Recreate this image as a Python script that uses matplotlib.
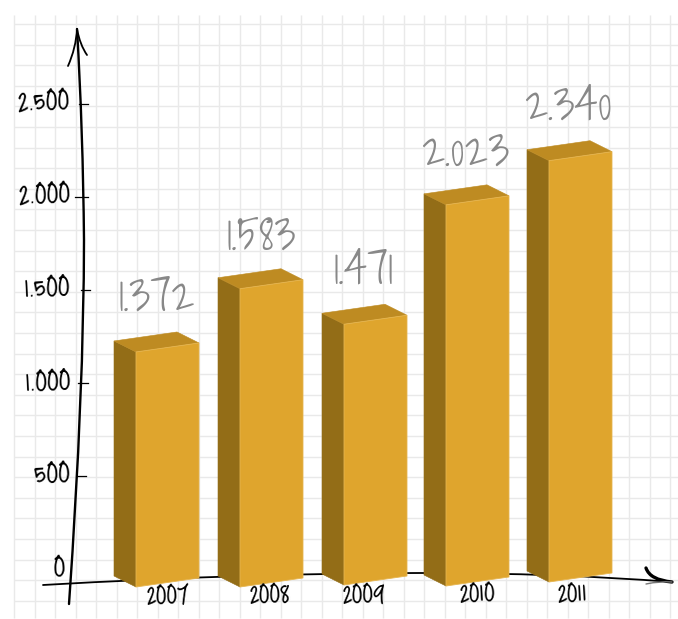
import matplotlib
matplotlib.use('Agg')
import matplotlib.pyplot as plt
from matplotlib.patches import PathPatch
from matplotlib.path import Path
import numpy as np

years = ['2007', '2008', '2009', '2010', '2011']
values = [1372, 1583, 1471, 2023, 2340]
value_labels = ['1.372', '1.583', '1.471', '2.023', '2.340']
y_ticks = [0, 500, 1000, 1500, 2000, 2500]
y_tick_labels = ['0', '500', '1.000', '1.500', '2.000', '2.500']

# layout of the sheet, in pixels
W, H = 678, 619
Y_ZERO = 569
PX_PER_UNIT = 0.186
front_left = [136, 240, 344, 446, 549]
front_bottom = [587, 587, 585, 586, 582]
# the bars are hand drawn, none of them sits exactly on the scale
hand_scale = [0.921, 1.013, 0.953, 1.013, 0.968]
FRONT_W, TILT, DEPTH_X, DEPTH_Y = 63, 9, 22, 11

value_label_xy = [(157, 297), (261, 236), (364, 270), (465, 152), (568, 106)]
year_label_xy = [(168, 598), (270, 598), (364, 598), (477, 597), (572, 597)]
tick_right = [65, 71, 72, 71, 71, 70]
tick_y = [571, 478, 385, 291, 198, 105]
tick_span = [None, (77, 86), (78, 88), (81, 90), (75, 88), (79, 88)]

FRONT = '#DFA52D'
SIDE = '#936D17'
TOP = '#BE8B22'
GRID = '#E9E9E9'
HAND_THIN = ['Shadows Into Light', 'DejaVu Sans']
HAND_BOLD = ['Just Me Again Down Here', 'DejaVu Sans']


def uy(py):
    # pixel row to value units
    return (Y_ZERO - py) / PX_PER_UNIT


def curve(ax, pts, lw=1.7, color='black', z=2):
    codes = [Path.MOVETO] + [Path.CURVE3] * (len(pts) - 1)
    verts = [(x, uy(y)) for x, y in pts]
    ax.add_patch(PathPatch(Path(verts, codes), fc='none', ec=color, lw=lw,
                           capstyle='round', zorder=z))


fig = plt.figure(figsize=(W / 100, H / 100), dpi=100)
ax = fig.add_axes([0, 0, 1, 1])
ax.set_xlim(0, W)
ax.set_ylim(uy(H), uy(0))
ax.axis('off')

# squared paper
for gx in np.arange(14, W, 20.5):
    ax.vlines(gx, uy(618), uy(15), color=GRID, lw=1.0, zorder=1)
for gy in np.arange(24, H, 20.6):
    ax.hlines(uy(gy), 14, W, color=GRID, lw=1.0, zorder=1)

# axes drawn by hand
curve(ax, [(69, 604), (84, 390), (84, 240), (83, 130), (77, 29)], lw=1.7)
curve(ax, [(77, 29), (76, 48), (68, 66)], lw=1.3)
curve(ax, [(77, 29), (80, 45), (87, 55)], lw=1.3)
curve(ax, [(43, 585), (250, 573), (420, 573), (560, 573), (672, 582)], lw=1.3)
curve(ax, [(672, 582), (650, 580), (646, 568)], lw=2.4)
curve(ax, [(672, 582), (660, 581), (646, 584)], lw=1.0, color='#777777')

for tick, label, right, ly, span in zip(y_ticks, y_tick_labels, tick_right, tick_y, tick_span):
    if span:
        ax.plot(span, [tick, tick], color='black', lw=0.9, zorder=2)
    ax.text(right, uy(ly), label, ha='right', va='center', family=HAND_BOLD,
            fontsize=23, rotation=3, color='black', zorder=5)

# bars: side, top, then front
for i, value in enumerate(values):
    x0 = front_left[i]
    x1 = x0 + FRONT_W
    base = uy(front_bottom[i])
    top = base + value * hand_scale[i]
    tilt = TILT / PX_PER_UNIT
    dy = DEPTH_Y / PX_PER_UNIT
    ax.fill([x0 - DEPTH_X, x0, x0, x0 - DEPTH_X],
            [base + dy, base, top, top + dy],
            fc=SIDE, ec=SIDE, lw=0.4, zorder=3)
    ax.fill([x0 - DEPTH_X, x0, x1, x1 - DEPTH_X],
            [top + dy, top, top + tilt, top + tilt + dy],
            fc=TOP, ec=TOP, lw=0.4, zorder=3)
    ax.fill([x0, x1, x1, x0],
            [base, base + tilt, top + tilt, top],
            fc=FRONT, ec='#E6B54F', lw=0.6, zorder=4)

for label, (lx, ly) in zip(value_labels, value_label_xy):
    ax.text(lx, uy(ly), label, ha='center', va='center', family=HAND_THIN,
            fontsize=33, color='#888888', zorder=5)

for year, (lx, ly) in zip(years, year_label_xy):
    ax.text(lx, uy(ly), year, ha='center', va='center', family=HAND_BOLD,
            fontsize=21, rotation=3, color='black', zorder=5)

fig.savefig('out.png', dpi=100, facecolor='white')
